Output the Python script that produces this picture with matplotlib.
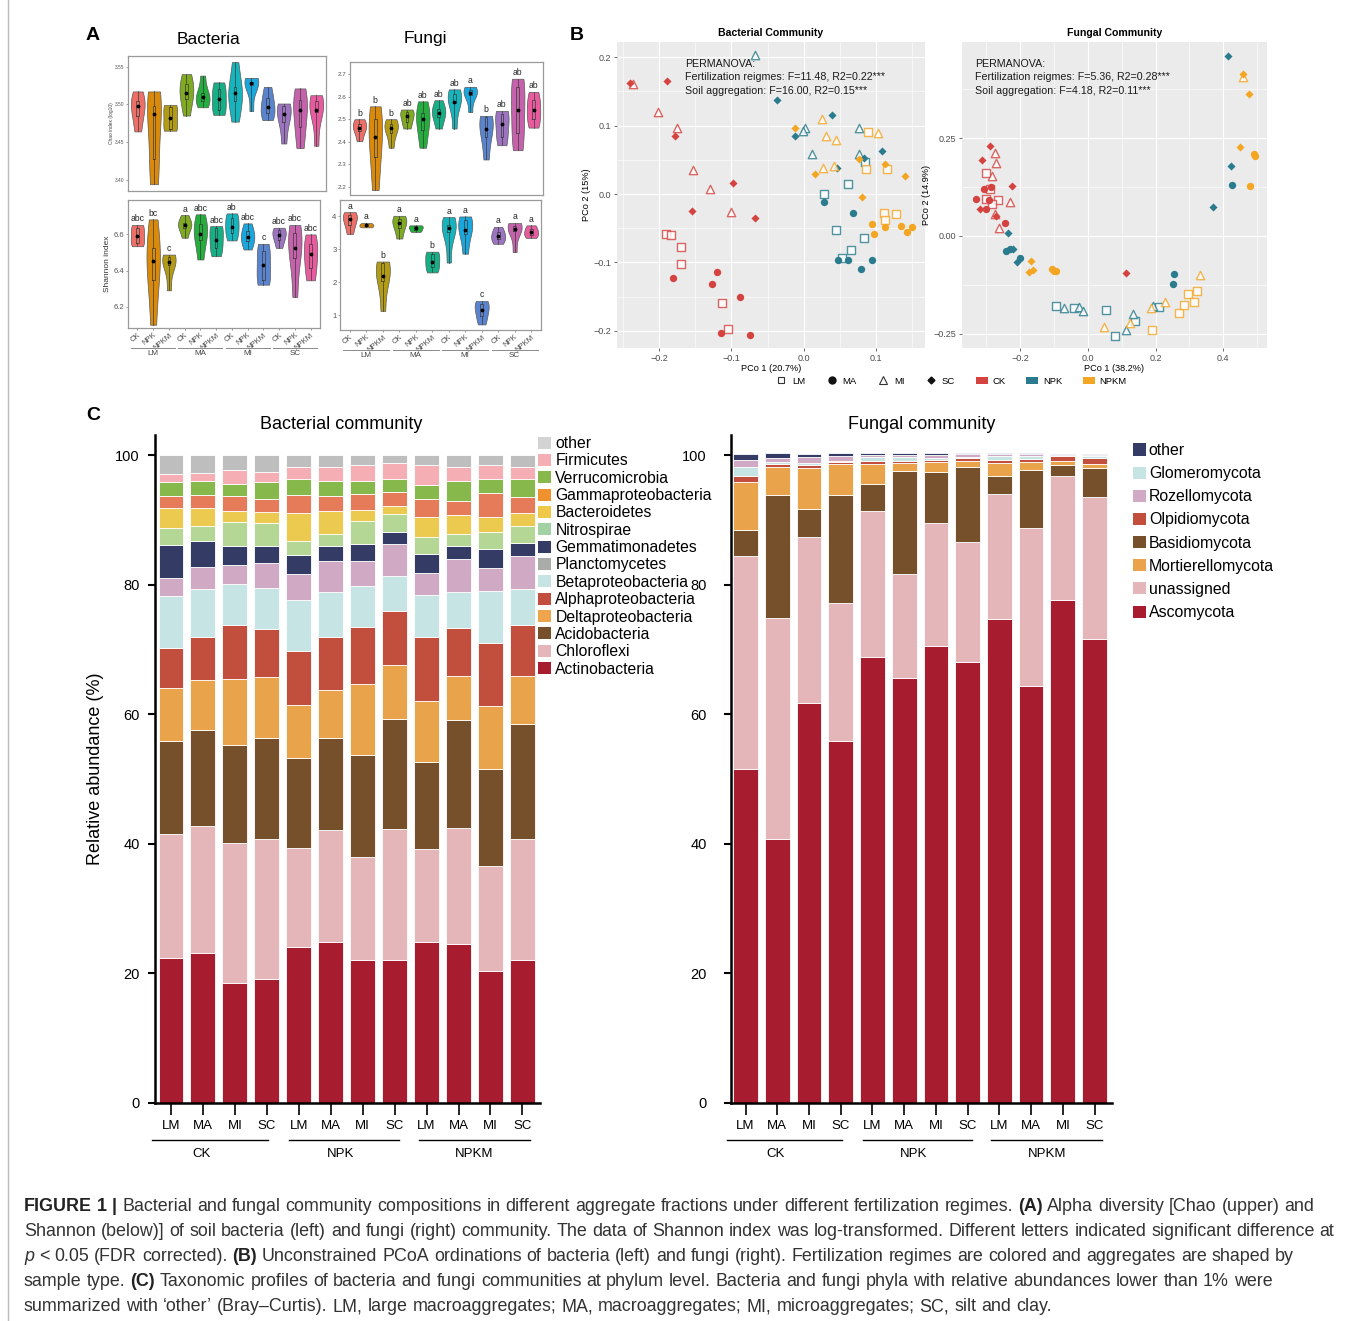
import numpy as np
import matplotlib
matplotlib.use("Agg")
import matplotlib.pyplot as plt
import matplotlib.transforms as mtransforms
from matplotlib.patches import Patch
from matplotlib.lines import Line2D

plt.rcParams["font.family"] = ["Liberation Sans", "DejaVu Sans"]

W, H = 1355, 1321

# ── Panel A: alpha diversity, (min, q1, median, q3, max) per group ─────────────
group_treat = ["CK", "NPK", "NPKM"] * 4
group_agg = ["LM", "MA", "MI", "SC"]
violin_colors = ["#EC7068", "#D98A0A", "#B39C14", "#7FAA22", "#25AD3E", "#16B087",
                 "#16B5BD", "#1AA7DD", "#5B84CF", "#9C74C0", "#C562AB", "#E85C9F"]

chao_bac = [
    [3.464, 3.484, 3.498, 3.504, 3.517], [3.394, 3.428, 3.487, 3.498, 3.517],
    [3.465, 3.467, 3.482, 3.496, 3.499], [3.485, 3.507, 3.515, 3.527, 3.540],
    [3.496, 3.504, 3.510, 3.515, 3.538], [3.486, 3.493, 3.507, 3.520, 3.529],
    [3.477, 3.504, 3.515, 3.523, 3.556], [3.491, 3.525, 3.528, 3.530, 3.535],
    [3.479, 3.488, 3.496, 3.508, 3.523], [3.448, 3.477, 3.487, 3.498, 3.501],
    [3.442, 3.470, 3.492, 3.506, 3.521], [3.445, 3.490, 3.493, 3.504, 3.512],
]
chao_fun = [
    [2.403, 2.449, 2.463, 2.481, 2.500], [2.187, 2.334, 2.422, 2.500, 2.557],
    [2.374, 2.441, 2.463, 2.478, 2.500], [2.459, 2.488, 2.515, 2.532, 2.543],
    [2.374, 2.451, 2.503, 2.528, 2.579], [2.459, 2.510, 2.528, 2.547, 2.584],
    [2.459, 2.572, 2.576, 2.613, 2.632], [2.532, 2.606, 2.616, 2.628, 2.643],
    [2.322, 2.422, 2.459, 2.510, 2.515], [2.385, 2.422, 2.478, 2.522, 2.537],
    [2.363, 2.437, 2.540, 2.643, 2.679], [2.463, 2.500, 2.540, 2.584, 2.621],
]
shannon_bac = [
    [6.535, 6.554, 6.591, 6.637, 6.652], [6.102, 6.351, 6.453, 6.526, 6.683],
    [6.292, 6.430, 6.447, 6.475, 6.489], [6.582, 6.637, 6.652, 6.665, 6.707],
    [6.462, 6.572, 6.604, 6.655, 6.711], [6.480, 6.526, 6.572, 6.637, 6.646],
    [6.567, 6.609, 6.642, 6.692, 6.716], [6.517, 6.563, 6.585, 6.618, 6.661],
    [6.323, 6.351, 6.430, 6.508, 6.548], [6.526, 6.572, 6.596, 6.622, 6.637],
    [6.255, 6.471, 6.526, 6.609, 6.652], [6.347, 6.416, 6.493, 6.545, 6.600],
]
shannon_fun = [
    [3.47, 3.75, 3.92, 4.05, 4.13], [3.67, 3.70, 3.73, 3.77, 3.80],
    [1.13, 2.05, 2.20, 2.58, 2.63], [3.33, 3.65, 3.80, 3.93, 4.02],
    [3.53, 3.58, 3.65, 3.70, 3.73], [2.30, 2.45, 2.63, 2.85, 2.93],
    [2.60, 3.53, 3.65, 3.75, 3.98], [2.87, 3.47, 3.60, 3.90, 4.00],
    [0.72, 0.97, 1.17, 1.35, 1.43], [3.17, 3.30, 3.40, 3.52, 3.68],
    [2.92, 3.57, 3.63, 3.70, 3.80], [3.35, 3.43, 3.52, 3.62, 3.73],
]
chao_fun_letters = ["b", "b", "b", "ab", "ab", "ab", "ab", "a", "b", "ab", "ab", "ab"]
shannon_bac_letters = ["abc", "bc", "c", "a", "abc", "abc", "ab", "abc", "c", "abc", "abc", "abc"]
shannon_fun_letters = ["a", "a", "b", "a", "a", "b", "a", "a", "c", "a", "a", "a"]

# ── Panel B: PCoA scores per fertilization regime and aggregate ───────────────
treat_colors = {"CK": "#D4433F", "NPK": "#2A7B8D", "NPKM": "#F4A623"}
agg_markers = {"LM": "s", "MA": "o", "MI": "^", "SC": "D"}

bac_ck = {
    "LM": [(-0.190, -0.058), (-0.183, -0.060), (-0.169, -0.078), (-0.170, -0.102), (-0.1135, -0.159), (-0.1048, -0.197)],
    "MA": [(-0.181, -0.123), (-0.120, -0.114), (-0.1264, -0.132), (-0.0886, -0.150), (-0.114, -0.204), (-0.0748, -0.207)],
    "MI": [(-0.236, 0.161), (-0.202, 0.120), (-0.175, 0.097), (-0.153, 0.035), (-0.129, 0.0068), (-0.100, -0.027)],
    "SC": [(-0.2395, 0.163), (-0.1887, 0.166), (-0.1772, 0.0856), (-0.155, -0.0243), (-0.0974, 0.0165), (-0.0674, -0.035)],
}
bac_npk = {
    "LM": [(0.0277, 0.0005), (0.0605, 0.014), (0.0443, -0.053), (0.0835, -0.065), (0.0646, -0.082), (0.0535, -0.094), (0.0845, 0.047)],
    "MA": [(0.028, -0.011), (0.068, -0.028), (0.048, -0.097), (0.061, -0.097), (0.0946, -0.096), (0.0785, -0.110)],
    "MI": [(-0.067, 0.203), (0.0023, 0.096), (-0.001, 0.092), (0.0115, 0.058), (0.076, 0.096), (0.077, 0.058)],
    "SC": [(-0.0365, 0.137), (-0.0125, 0.0856), (0.0397, 0.115), (0.0831, 0.052), (0.108, 0.063), (0.0457, 0.038)],
}
bac_npkm = {
    "LM": [(0.0886, 0.091), (0.0858, 0.037), (0.115, 0.037), (0.1108, -0.0273), (0.1117, -0.038), (0.128, -0.0297)],
    "MA": [(0.0946, -0.0443), (0.0974, -0.058), (0.112, -0.0487), (0.1338, -0.0462), (0.1426, -0.0555), (0.149, -0.0487)],
    "MI": [(0.0258, 0.110), (0.0314, 0.0847), (0.0448, 0.0788), (0.103, 0.0886), (0.0263, 0.0384), (0.0415, 0.0414)],
    "SC": [(-0.0125, 0.097), (0.0157, 0.0297), (0.076, 0.0506), (0.1117, 0.0433), (0.1398, 0.0263), (0.0808, -0.0049)],
}
fun_ck = {
    "LM": [(-0.3005, 0.1618), (-0.2906, 0.121), (-0.3015, 0.0937), (-0.267, 0.092), (-0.2837, 0.081)],
    "MA": [(-0.330, 0.0937), (-0.3064, 0.1193), (-0.2857, 0.126), (-0.3015, 0.0681), (-0.2443, 0.034), (-0.2926, 0.092)],
    "MI": [(-0.2759, 0.213), (-0.271, 0.1857), (-0.2828, 0.154), (-0.2296, 0.086), (-0.2749, 0.0554), (-0.264, 0.0196)],
    "SC": [(-0.2887, 0.2308), (-0.3143, 0.1942), (-0.2246, 0.1286), (-0.3192, 0.0681), (-0.2709, 0.052), (0.1123, -0.0954)],
}
fun_npk = {
    "LM": [(-0.0936, -0.1789), (-0.0424, -0.1857), (0.0542, -0.1908), (0.0788, -0.2555), (0.1399, -0.2172), (0.2108, -0.1831)],
    "MA": [(-0.2414, -0.0383), (-0.2296, -0.034), (-0.200, -0.0554), (0.2532, -0.0971), (0.2502, -0.1227), (0.4256, 0.1303)],
    "MI": [(-0.0719, -0.1857), (-0.0266, -0.1823), (-0.0138, -0.1917), (0.1123, -0.2419), (0.134, -0.2002), (0.1911, -0.1789)],
    "SC": [(-0.2374, 0.0068), (-0.2217, -0.0332), (-0.2099, -0.068), (0.4128, 0.4608), (0.4227, 0.1789), (0.3704, 0.075)],
}
fun_npkm = {
    "LM": [(0.1892, -0.2419), (0.268, -0.1976), (0.2828, -0.1772), (0.2966, -0.1482), (0.3123, -0.1695), (0.3212, -0.1405)],
    "MA": [(-0.1054, -0.0852), (-0.0936, -0.0886), (-0.1015, -0.0894), (0.4897, 0.2095), (0.4926, 0.2044), (0.4798, 0.1286)],
    "MI": [(0.0463, -0.2334), (0.1251, -0.2232), (0.1872, -0.1857), (0.2266, -0.1704), (0.330, -0.0997), (0.4581, 0.4072)],
    "SC": [(-0.1685, -0.063), (-0.1754, -0.0911), (-0.1626, -0.0869), (0.4591, 0.414), (0.4749, 0.3629), (0.4483, 0.2274)],
}
bac_stats = ["PERMANOVA:", "Fertilization reigmes: F=11.48, R2=0.22***", "Soil aggregation: F=16.00, R2=0.15***"]
fun_stats = ["PERMANOVA:", "Fertilization reigmes: F=5.36, R2=0.28***", "Soil aggregation: F=4.18, R2=0.11***"]

# ── Panel C: relative abundance (%) per sample, stacked bottom to top ─────────
sample_agg = ["LM", "MA", "MI", "SC"] * 3
sample_treat = ["CK", "NPK", "NPKM"]

actinobacteria = [22.4, 23.1, 18.5, 19.1, 24.1, 24.8, 22.1, 22.0, 24.8, 24.5, 20.4, 22.1]
chloroflexi = [19.1, 19.6, 21.6, 21.6, 15.2, 17.4, 15.8, 20.3, 14.4, 18.0, 16.2, 18.6]
acidobacteria = [14.3, 14.9, 15.1, 15.6, 13.9, 14.2, 15.8, 16.9, 13.4, 16.6, 15.0, 17.8]
deltaproteobacteria = [8.2, 7.7, 10.3, 9.5, 8.2, 7.4, 10.9, 8.4, 9.5, 6.8, 9.6, 7.4]
alphaproteobacteria = [6.3, 6.6, 8.2, 7.3, 8.4, 8.2, 8.9, 8.4, 9.8, 7.4, 9.8, 7.9]
betaproteobacteria = [7.9, 7.5, 6.4, 6.4, 7.8, 6.9, 6.3, 5.4, 6.5, 5.5, 8.0, 5.6]
planctomycetes = [2.8, 3.3, 2.9, 3.8, 4.0, 4.7, 3.8, 4.9, 3.4, 5.1, 3.6, 5.1]
gemmatimonadetes = [5.1, 4.1, 3.0, 2.7, 3.0, 2.4, 2.7, 1.8, 2.9, 2.0, 2.9, 2.0]
nitrospirae = [2.7, 2.3, 3.6, 3.5, 2.2, 1.8, 3.5, 2.8, 2.6, 1.9, 2.7, 2.5]
bacteroidetes = [3.1, 2.8, 1.8, 1.7, 4.2, 3.6, 1.8, 1.2, 3.1, 2.9, 2.3, 2.0]
gammaproteobacteria = [1.8, 1.9, 2.3, 2.0, 2.9, 2.3, 2.4, 2.2, 2.8, 2.2, 3.6, 2.6]
verrucomicrobia = [2.1, 2.2, 1.9, 2.6, 2.4, 2.3, 2.0, 2.0, 2.2, 3.1, 2.2, 2.7]
firmicutes = [1.3, 1.3, 2.1, 1.6, 1.8, 2.1, 2.4, 2.5, 3.0, 2.2, 2.2, 1.9]
other_bac = [2.9, 2.7, 2.3, 2.6, 1.9, 1.9, 1.6, 1.2, 1.6, 1.8, 1.5, 1.8]

ascomycota = [51.5, 40.7, 61.8, 55.9, 68.9, 65.6, 70.6, 68.1, 74.7, 64.3, 77.6, 71.6]
unassigned = [32.9, 34.1, 25.5, 21.2, 22.4, 16.0, 18.9, 18.5, 19.3, 24.5, 19.2, 21.9]
basidiomycota = [4.0, 19.1, 4.4, 16.8, 4.3, 15.9, 7.9, 11.6, 2.8, 8.9, 1.6, 4.5]
mortierellomycota = [7.5, 4.2, 6.3, 4.8, 3.1, 1.3, 1.5, 0.9, 2.0, 1.3, 0.7, 0.7]
olpidiomycota = [0.9, 0.5, 0.5, 0.2, 0.4, 0.3, 0.4, 0.4, 0.4, 0.4, 0.7, 0.9]
glomeromycota = [1.3, 0.4, 0.3, 0.2, 0.6, 0.6, 0.3, 0.2, 0.7, 0.5, 0.1, 0.3]
rozellomycota = [1.1, 0.5, 0.9, 0.7, 0.3, 0.3, 0.4, 0.4, 0.2, 0.2, 0.1, 0.1]
other_fun = [0.9, 0.8, 0.5, 0.5, 0.3, 0.3, 0.3, 0.2, 0.2, 0.2, 0.1, 0.1]

bac_layers = [
    ("Actinobacteria", actinobacteria, "#A81C30", "#A81C30"),
    ("Chloroflexi", chloroflexi, "#E4B5B9", "#E4B5B9"),
    ("Acidobacteria", acidobacteria, "#76502A", "#76502A"),
    ("Deltaproteobacteria", deltaproteobacteria, "#E9A34B", "#EEA54E"),
    ("Alphaproteobacteria", alphaproteobacteria, "#C24E3E", "#C24E3E"),
    ("Betaproteobacteria", betaproteobacteria, "#C6E4E4", "#C6E4E4"),
    ("Planctomycetes", planctomycetes, "#D0A9C4", "#AAACAA"),
    ("Gemmatimonadetes", gemmatimonadetes, "#343B64", "#343B64"),
    ("Nitrospirae", nitrospirae, "#B4D795", "#A2D2A4"),
    ("Bacteroidetes", bacteroidetes, "#ECCA4F", "#EFC84A"),
    ("Gammaproteobacteria", gammaproteobacteria, "#E67B59", "#EF922E"),
    ("Verrucomicrobia", verrucomicrobia, "#86B84B", "#86B84B"),
    ("Firmicutes", firmicutes, "#F4AEB4", "#F4AEB4"),
    ("other", other_bac, "#BEBEBE", "#D3D3D3"),
]
fun_layers = [
    ("Ascomycota", ascomycota, "#A81C30"),
    ("unassigned", unassigned, "#E4B5B9"),
    ("Basidiomycota", basidiomycota, "#76502A"),
    ("Mortierellomycota", mortierellomycota, "#E9A34B"),
    ("Olpidiomycota", olpidiomycota, "#C24E3E"),
    ("Glomeromycota", glomeromycota, "#C6E4E4"),
    ("Rozellomycota", rozellomycota, "#D0A9C4"),
    ("other", other_fun, "#343B64"),
]
fun_legend_order = ["other", "Glomeromycota", "Rozellomycota", "Olpidiomycota",
                    "Basidiomycota", "Mortierellomycota", "unassigned", "Ascomycota"]

caption_lines = [
    [("FIGURE 1 |", "bold", "normal"),
     ("Bacterial and fungal community compositions in different aggregate fractions under different fertilization regimes.", "normal", "normal"),
     ("(A)", "bold", "normal"), ("Alpha diversity [Chao (upper) and", "normal", "normal")],
    [("Shannon (below)] of soil bacteria (left) and fungi (right) community. The data of Shannon index was log-transformed. Different letters indicated significant difference at", "normal", "normal")],
    [("p", "normal", "italic"), ("< 0.05 (FDR corrected).", "normal", "normal"), ("(B)", "bold", "normal"),
     ("Unconstrained PCoA ordinations of bacteria (left) and fungi (right). Fertilization regimes are colored and aggregates are shaped by", "normal", "normal")],
    [("sample type.", "normal", "normal"), ("(C)", "bold", "normal"),
     ("Taxonomic profiles of bacteria and fungi communities at phylum level. Bacteria and fungi phyla with relative abundances lower than 1% were", "normal", "normal")],
    [("summarized with \u2018other\u2019 (Bray\u2013Curtis). LM, large macroaggregates; MA, macroaggregates; MI, microaggregates; SC, silt and clay.", "normal", "normal")],
]

fig = plt.figure(figsize=(W / 100, H / 100), dpi=100)


def add_ax(left, top, right, bottom):
    return fig.add_axes([left / W, 1 - bottom / H, (right - left) / W, (bottom - top) / H])


def fig_text(x, y, s, **kw):
    return fig.text(x / W, 1 - y / H, s, **kw)


# ── Panel A ────────────────────────────────────────────────────────────────────
def draw_violins(ax, stats, letters, ylim, yticks, ticklabels, tick_fs, bottom):
    pos = np.arange(1, 13)
    parts = ax.violinplot(stats, positions=pos, widths=0.85, showextrema=False)
    for body, c in zip(parts["bodies"], violin_colors):
        body.set_facecolor(c)
        body.set_edgecolor("#5A5A5A")
        body.set_linewidth(0.5)
        body.set_alpha(1)
    boxes = [dict(whislo=s[0], q1=s[1], med=s[2], q3=s[3], whishi=s[4]) for s in stats]
    line = dict(color="#3A3A3A", lw=0.5)
    ax.bxp(boxes, positions=pos, widths=0.17, showfliers=False, showcaps=False,
           boxprops=line, whiskerprops=line, medianprops=line)
    ax.scatter(pos, [s[2] for s in stats], s=3, color="black", zorder=4)
    span = ylim[1] - ylim[0]
    if letters:
        for p, s, lab in zip(pos, stats, letters):
            ax.text(p, s[4] + span * 0.012, lab, ha="center", va="bottom", fontsize=6.2, color="#222222")
    ax.set_xlim(0.4, 12.6)
    ax.set_ylim(*ylim)
    ax.set_yticks(yticks, ticklabels)
    ax.tick_params(axis="y", labelsize=tick_fs, length=1.5, width=0.4, pad=1, colors="#555555")
    for sp in ax.spines.values():
        sp.set_color("#9A9A9A")
        sp.set_linewidth(0.9)
    if bottom:
        ax.set_xticks(pos, group_treat, rotation=40, ha="right", rotation_mode="anchor", fontsize=5.5)
        ax.tick_params(axis="x", length=1.5, width=0.4, pad=1, colors="#444444")
        tr = mtransforms.blended_transform_factory(ax.transData, ax.transAxes)
        for i, g in enumerate(group_agg):
            ax.plot([3 * i + 0.6, 3 * i + 3.4], [-0.155, -0.155], transform=tr, clip_on=False,
                    color="#8A8A8A", lw=0.7)
            ax.text(3 * i + 2, -0.17, g, transform=tr, ha="center", va="top", fontsize=5.8, color="#444444")
    else:
        ax.set_xticks([])


ax_a1 = add_ax(128, 56, 326, 191)
draw_violins(ax_a1, chao_bac, None, (3.385, 3.564), [3.40, 3.45, 3.50, 3.55],
             ["3.40", "3.45", "3.50", "3.55"], 3.5, False)
ax_a1.set_ylabel("Chao index (log10)", fontsize=3.5, labelpad=1, color="#444444")

ax_a2 = add_ax(350, 62, 543, 195)
draw_violins(ax_a2, chao_fun, chao_fun_letters, (2.165, 2.753), [2.2, 2.3, 2.4, 2.5, 2.6, 2.7],
             ["2.2", "2.3", "2.4", "2.5", "2.6", "2.7"], 4.5, False)

ax_a3 = add_ax(128, 200, 320, 328)
draw_violins(ax_a3, shannon_bac, shannon_bac_letters, (6.084, 6.79), [6.2, 6.4, 6.6],
             ["6.2", "6.4", "6.6"], 5.5, True)
ax_a3.set_ylabel("Shannon index", fontsize=6, labelpad=2, color="#333333")

ax_a4 = add_ax(340, 200, 541, 330)
draw_violins(ax_a4, shannon_fun, shannon_fun_letters, (0.55, 4.5), [1, 2, 3, 4],
             ["1", "2", "3", "4"], 5.5, True)

fig_text(209, 39, "Bacteria", fontsize=12.5, ha="center", va="center")
fig_text(425, 39, "Fungi", fontsize=12.5, ha="center", va="center")


# ── Panel B ────────────────────────────────────────────────────────────────────
def draw_pcoa(ax, groups, xlim, ylim, xticks, xlabels, xminor, yticks, ylabels, yminor,
              title, xlabel, ylabel, stats, stats_x):
    ax.set_facecolor("#EBEBEB")
    for treat, pts in groups.items():
        col = treat_colors[treat]
        for agg, coords in pts.items():
            xs = [c[0] for c in coords]
            ys = [c[1] for c in coords]
            mk = agg_markers[agg]
            if agg in ("LM", "MI"):
                ax.scatter(xs, ys, marker=mk, s=36, facecolors="white", edgecolors=col,
                           linewidths=1.0, alpha=0.8, zorder=3)
            else:
                ax.scatter(xs, ys, marker=mk, s=28 if agg == "MA" else 17, color=col,
                           linewidths=0, zorder=3)
    ax.set_xlim(*xlim)
    ax.set_ylim(*ylim)
    ax.set_xticks(xticks, xlabels)
    ax.set_xticks(xminor, minor=True)
    ax.set_yticks(yticks, ylabels)
    ax.set_yticks(yminor, minor=True)
    ax.grid(which="major", color="white", lw=0.8)
    ax.grid(which="minor", color="white", lw=0.4)
    ax.set_axisbelow(True)
    for sp in ax.spines.values():
        sp.set_visible(False)
    ax.tick_params(which="major", labelsize=6.5, labelcolor="#4D4D4D", length=2.5, width=0.5,
                   color="#333333", pad=1.5)
    ax.tick_params(which="minor", length=0)
    ax.set_title(title, fontsize=7.6, fontweight="bold", pad=4)
    ax.set_xlabel(xlabel, fontsize=6.6, labelpad=1)
    ax.set_ylabel(ylabel, fontsize=6.6, labelpad=2)
    for i, s in enumerate(stats):
        fig_text(stats_x, 64.3 + 13.2 * i, s, fontsize=7.7, va="center", color="#1A1A1A")


ax_b1 = add_ax(617, 42, 925, 348)
draw_pcoa(ax_b1, {"CK": bac_ck, "NPK": bac_npk, "NPKM": bac_npkm},
          (-0.258, 0.1675), (-0.2253, 0.2224),
          [-0.2, -0.1, 0.0, 0.1], ["\u22120.2", "\u22120.1", "0.0", "0.1"], [-0.25, -0.15, -0.05, 0.05, 0.15],
          [-0.2, -0.1, 0.0, 0.1, 0.2], ["\u22120.2", "\u22120.1", "0.0", "0.1", "0.2"], [-0.15, -0.05, 0.05, 0.15],
          "Bacterial Community", "PCo 1 (20.7%)", "PCo 2 (15%)", bac_stats, 685)

ax_b2 = add_ax(962, 42, 1267, 348)
draw_pcoa(ax_b2, {"CK": fun_ck, "NPK": fun_npk, "NPKM": fun_npkm},
          (-0.372, 0.529), (-0.287, 0.4966),
          [-0.2, 0.0, 0.2, 0.4], ["\u22120.2", "0.0", "0.2", "0.4"], [-0.3, -0.1, 0.1, 0.3, 0.5],
          [-0.25, 0.0, 0.25], ["\u22120.25", "0.00", "0.25"], [-0.125, 0.125, 0.375],
          "Fungal Community", "PCo 1 (38.2%)", "PCo 2 (14.9%)", fun_stats, 975)

shape_handles = [
    Line2D([], [], ls="", marker="s", mfc="none", mec="#333333", ms=5, mew=0.8, label="LM"),
    Line2D([], [], ls="", marker="o", color="#111111", ms=5, label="MA"),
    Line2D([], [], ls="", marker="^", mfc="none", mec="#333333", ms=5.5, mew=0.8, label="MI"),
    Line2D([], [], ls="", marker="D", color="#111111", ms=3.5, label="SC"),
]
color_handles = [Patch(facecolor=treat_colors[t], label=t) for t in ["CK", "NPK", "NPKM"]]
fig.legend(handles=shape_handles + color_handles, loc="center", ncol=7, frameon=False,
           bbox_to_anchor=(951 / W, 1 - 381 / H), fontsize=6.8, columnspacing=2.15,
           handletextpad=0.5, handlelength=1.3, handleheight=0.8)


# ── Panel C ────────────────────────────────────────────────────────────────────
def draw_stacks(ax, layers, left_pad, ytick_pad):
    pos = np.arange(12)
    base = np.zeros(12)
    for layer in layers:
        vals = np.array(layer[1])
        ax.bar(pos, vals, bottom=base, width=0.78, color=layer[2], edgecolor="white", linewidth=0.6)
        base += vals
    ax.set_xlim(left_pad, 11.55)
    ax.set_ylim(0, 103.1)
    ax.set_yticks([0, 20, 40, 60, 80, 100])
    ax.set_xticks(pos, sample_agg, fontsize=9.5)
    ax.tick_params(axis="y", labelsize=10.5, length=5, width=1.5, pad=ytick_pad)
    ax.tick_params(axis="x", length=8.5, width=1.2, pad=4)
    for side in ("top", "right"):
        ax.spines[side].set_visible(False)
    for side in ("left", "bottom"):
        ax.spines[side].set_linewidth(1.8)
    tr = mtransforms.blended_transform_factory(ax.transData, ax.transAxes)
    spans = [(-0.6, 3.05), (3.7, 7.15), (7.75, 11.25)]
    centers = [0.95, 5.3, 9.5]
    for (x0, x1), cx, lab in zip(spans, centers, sample_treat):
        ax.plot([x0, x1], [-0.056, -0.056], transform=tr, clip_on=False, color="black", lw=1.0)
        ax.text(cx, -0.068, lab, transform=tr, ha="center", va="top", fontsize=9.5)


ax_c1 = add_ax(155, 435, 540, 1103)
draw_stacks(ax_c1, bac_layers, -0.5, 6)
ax_c1.set_ylabel("Relative abundance (%)", fontsize=13, labelpad=8)
ax_c1.set_title("Bacterial community", fontsize=13, pad=4, x=0.483)

ax_c2 = add_ax(731, 435, 1112, 1103)
draw_stacks(ax_c2, fun_layers, -0.46, 12.5)
ax_c2.set_title("Fungal community", fontsize=13, pad=4)

bac_handles = [Patch(facecolor=lay[3], label=lay[0]) for lay in reversed(bac_layers)]
fig.legend(handles=bac_handles, loc="upper left", bbox_to_anchor=(538 / W, 1 - 436 / H),
           frameon=False, fontsize=11.3, labelspacing=0.15, handlelength=0.8, handleheight=0.8,
           handletextpad=0.3, borderpad=0, borderaxespad=0)

fun_colors = {lay[0]: lay[2] for lay in fun_layers}
fun_handles = [Patch(facecolor=fun_colors[n], label=n) for n in fun_legend_order]
fig.legend(handles=fun_handles, loc="upper left", bbox_to_anchor=(1133 / W, 1 - 443 / H),
           frameon=False, fontsize=11.4, labelspacing=0.515, handlelength=0.85, handleheight=0.8,
           handletextpad=0.15, borderpad=0, borderaxespad=0)

# panel letters
for lab, x, y in [("A", 93, 35), ("B", 577, 35), ("C", 93, 416)]:
    fig_text(x, y, lab, fontsize=14, fontweight="bold", ha="center", va="center")

# left rule of the figure box
fig.add_artist(Line2D([8 / W, 8 / W], [0, 1], color="#BBBBBB", lw=1))


# ── Caption ────────────────────────────────────────────────────────────────────
def caption_line(y, chunks, size=12.85):
    renderer = fig.canvas.get_renderer()
    probe1 = fig.text(0, 0, "a a", fontsize=size)
    probe2 = fig.text(0, 0, "aa", fontsize=size)
    space = probe1.get_window_extent(renderer).width - probe2.get_window_extent(renderer).width
    probe1.remove()
    probe2.remove()
    x = 24.0
    for text, weight, style in chunks:
        for word in text.split():
            t = fig_text(x, y, word, fontsize=size, fontweight=weight, fontstyle=style,
                         color="#222222" if weight == "bold" else "#333333", va="baseline")
            x += t.get_window_extent(renderer).width + space


for i, chunks in enumerate(caption_lines):
    caption_line(1211 + 25 * i, chunks)

fig.savefig("out.png", dpi=100)
